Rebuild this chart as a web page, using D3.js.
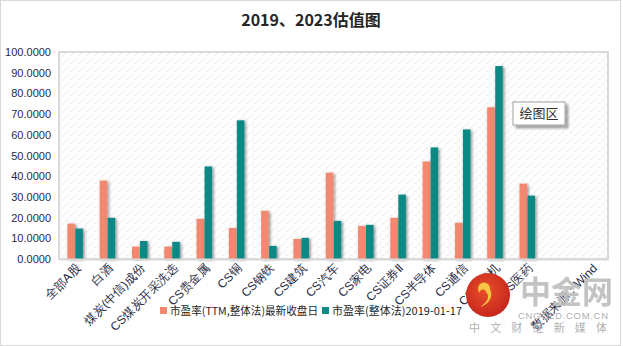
<!DOCTYPE html>
<html><head><meta charset="utf-8">
<script src="https://cdn.jsdelivr.net/npm/d3@7"></script>
<style>
html,body{margin:0;padding:0;background:#fff;}
svg{display:block;font-family:"Noto Sans CJK SC","Noto Sans",sans-serif;}
</style></head>
<body><svg id="c" width="623" height="346"></svg>
<script>
const categories = ["全部A股","白酒","煤炭(中信)成份","CS煤炭开采洗选","CS贵金属","CS铜","CS钢铁","CS建筑","CS汽车","CS家电","CS证券Ⅱ","CS半导体","CS通信","CS计算机","CS医药","","数据来源：Wind"];
const seriesNames = ["市盈率(TTM,整体法)最新收盘日","市盈率(整体法)2019-01-17"];
const latestPE = [17.1,37.9,6.0,6.0,19.4,15.0,23.3,9.7,41.7,16.0,19.9,47.1,17.5,73.3,36.4,null,null];
const pe2019   = [14.7,19.9,8.7,8.3,44.7,67.0,6.3,10.2,18.4,16.5,31.1,53.9,62.6,93.2,30.6,null,null];
const yTicks = [0,10,20,30,40,50,60,70,80,90,100];
const colors = ["#F3886F","#0E8985"];

const svg = d3.select("#c");
const W=623,H=346;
const m={l:59,r:15,t:52,b:87};
const pw=W-m.l-m.r, ph=H-m.t-m.b;

const defs=svg.append("defs");
const pat=defs.append("pattern").attr("id","hatch").attr("patternUnits","userSpaceOnUse").attr("width",8).attr("height",8);
pat.append("rect").attr("width",8).attr("height",8).attr("fill","#fff");
pat.append("path").attr("d","M0,8 L8,0 M-2,2 L2,-2 M6,10 L10,6").attr("stroke","#ececec").attr("stroke-width",1);
pat.append("path").attr("d","M0,0 L4,4").attr("stroke","#f2f2f2").attr("stroke-width",1);
const f=defs.append("filter").attr("id","sh").attr("x","-60%").attr("y","-10%").attr("width","220%").attr("height","120%");
f.append("feDropShadow").attr("dx",1.5).attr("dy",1).attr("stdDeviation",1.6).attr("flood-color","#000").attr("flood-opacity",0.45);
const f2=defs.append("filter").attr("id","sh2").attr("x","-20%").attr("y","-20%").attr("width","150%").attr("height","160%");
f2.append("feDropShadow").attr("dx",3).attr("dy",3).attr("stdDeviation",1).attr("flood-color","#000").attr("flood-opacity",0.35);

// outer border
svg.append("rect").attr("x",0.5).attr("y",0.5).attr("width",620).attr("height",345).attr("fill","#fff").attr("stroke","#d9d9d9");

svg.append("text").attr("x",311).attr("y",26).attr("text-anchor","middle").attr("font-size",16).attr("font-weight","bold").attr("fill","#262626").text("2019、2023估值图");

const g=svg.append("g").attr("transform",`translate(${m.l},${m.t})`);
g.append("rect").attr("width",pw).attr("height",ph).attr("fill","url(#hatch)").attr("stroke","#d9d9d9").attr("stroke-width",2);

const x=d3.scaleBand().domain(categories.map((d,i)=>i)).range([0,pw]).paddingInner(0.52).paddingOuter(0.26);
const x1=d3.scaleBand().domain([0,1]).range([0,x.bandwidth()]).paddingInner(0.06);
const y=d3.scaleLinear().domain([0,100]).range([ph,0]);

const yAxis=d3.axisLeft(y).tickValues(yTicks).tickFormat(d3.format(".4f")).tickSize(0).tickPadding(8);
const ya=g.append("g").call(yAxis);
ya.select(".domain").remove();
ya.selectAll("text").attr("font-size",11).attr("fill","#1f2a44").attr("font-family","'Liberation Sans','Noto Sans',sans-serif");

const series=[latestPE,pe2019];
series.forEach((vals,si)=>{
  g.append("g").selectAll("rect").data(vals.map((v,i)=>({v,i})).filter(d=>d.v!=null)).join("rect")
   .attr("x",d=>x(d.i)+x1(si)).attr("width",x1.bandwidth())
   .attr("y",d=>y(d.v)).attr("height",d=>ph-y(d.v))
   .attr("fill",colors[si]).attr("filter","url(#sh)");
});

const xAxis=d3.axisBottom(x).tickFormat(i=>categories[i]).tickSize(0).tickPadding(0);
const xa=g.append("g").attr("transform",`translate(0,${ph})`).call(xAxis);
xa.select(".domain").attr("stroke","#d9d9d9").attr("stroke-width",2);
xa.selectAll("text").attr("font-size",12).attr("fill","#1f2a44")
  .attr("text-anchor","end").attr("dy",0).attr("y",0)
  .attr("transform","translate(6,10) rotate(-45)");

// legend
const lg=svg.append("g").attr("transform","translate(160,311)");
const lx=[0,162];
const lw=[148,130];
seriesNames.forEach((n,i)=>{
  lg.append("rect").attr("x",lx[i]).attr("y",-4).attr("width",7).attr("height",7).attr("fill",colors[i]);
  lg.append("text").attr("x",lx[i]+10).attr("y",4).attr("font-size",11).attr("fill","#1f1f1f")
    .attr("textLength",lw[i]).attr("lengthAdjust","spacingAndGlyphs").text(n);
});

// tooltip "绘图区"
const tt=svg.append("g").attr("transform","translate(513,102)");
tt.append("rect").attr("width",52).attr("height",23).attr("fill","#fff").attr("stroke","#a0a0a0").attr("filter","url(#sh2)");
tt.append("text").attr("x",26).attr("y",16).attr("text-anchor","middle").attr("font-size",13).attr("fill","#333").text("绘图区");

// watermark logo
const lo=svg.append("g");
const grd=defs.append("radialGradient").attr("id","lr").attr("cx","45%").attr("cy","40%").attr("r","60%");
grd.append("stop").attr("offset","0%").attr("stop-color","#e8502a");
grd.append("stop").attr("offset","100%").attr("stop-color","#c7261c");
lo.append("circle").attr("cx",488).attr("cy",295).attr("r",22).attr("fill","url(#lr)");
lo.append("path").attr("d","M480,293 a6,6 0 1,1 10,-4 c4,8 -2,16 -10,18 c8,-5 10,-11 6,-15 a3,3 0 1,0 -6,1 Z").attr("fill","#f7c443");
lo.append("text").attr("x",520).attr("y",303).attr("font-size",31).attr("font-weight","bold").attr("fill","#bdbdbd").attr("opacity",0.9).text("中金网");
lo.append("text").attr("x",518).attr("y",319).attr("font-size",9.5).attr("fill","#b0b0b0").attr("font-family","'Liberation Sans',sans-serif").attr("textLength",90).text("CNGOLD.COM.CN");
lo.append("text").attr("x",469).attr("y",332).attr("font-size",11).attr("fill","#b0b0b0").attr("textLength",138).text("中文财经新媒体");
</script></body></html>
